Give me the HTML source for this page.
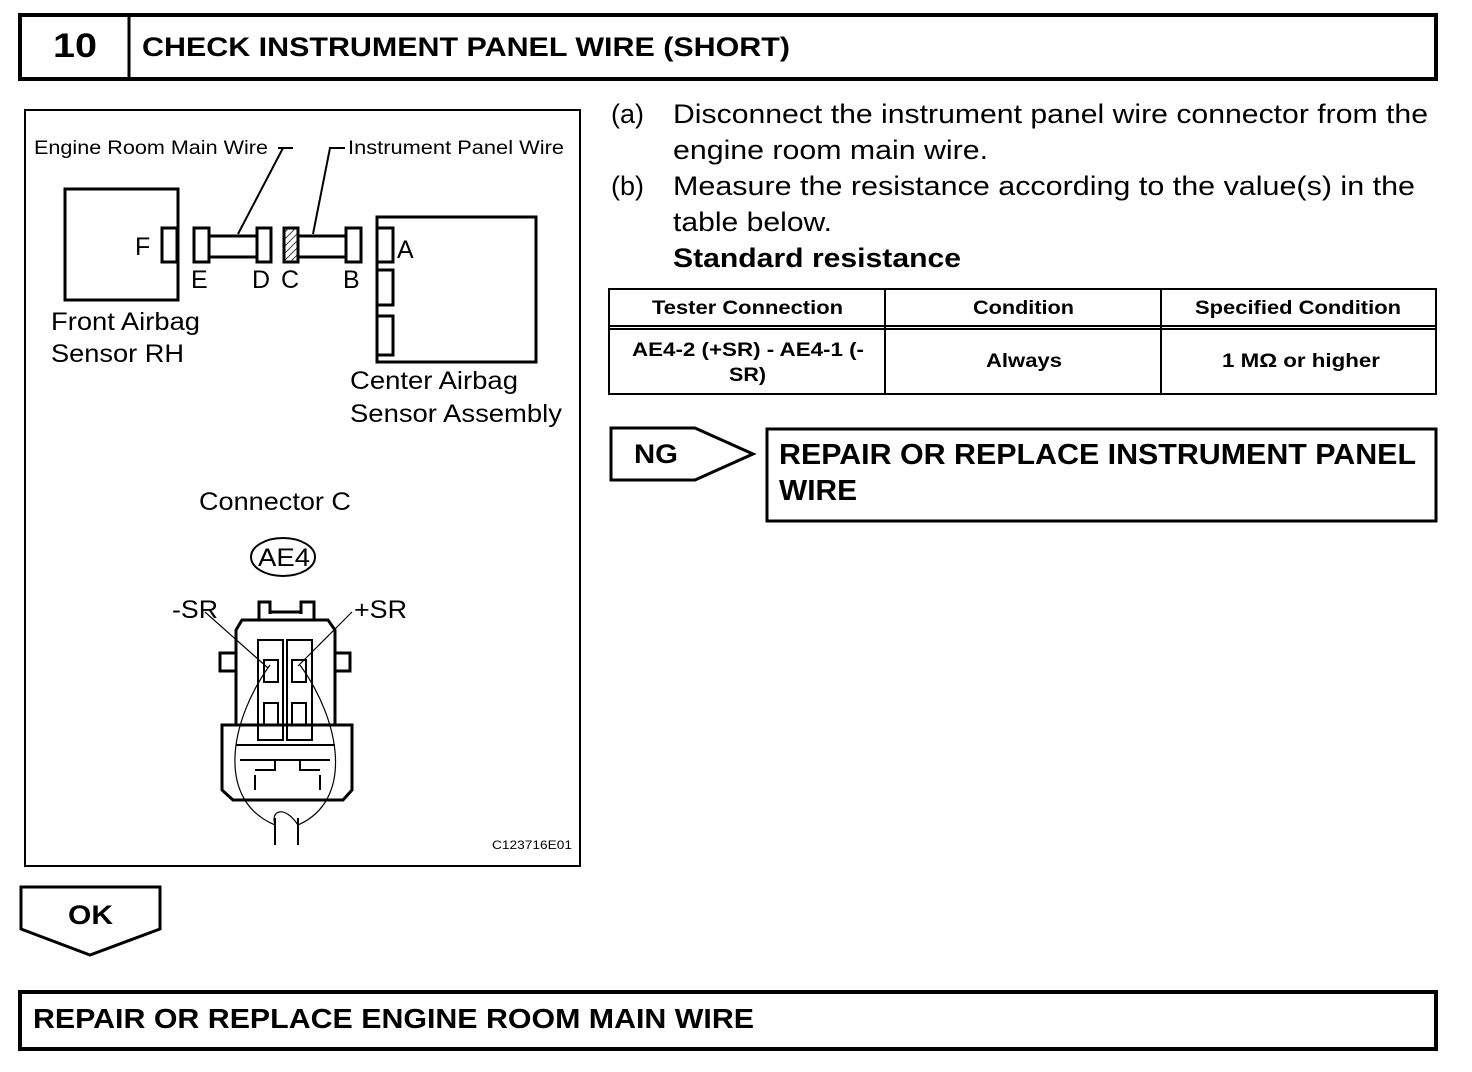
<!DOCTYPE html>
<html><head><meta charset="utf-8"><style>
body{margin:0;background:#fff;}
svg{display:block;font-family:"Liberation Sans",Arial,sans-serif;}
</style></head><body>
<svg width="1472" height="1072" viewBox="0 0 1472 1072" xmlns="http://www.w3.org/2000/svg">
<defs><pattern id="h" width="5" height="5" patternUnits="userSpaceOnUse" patternTransform="rotate(45)"><line x1="0" y1="0" x2="0" y2="5" stroke="#000" stroke-width="1.5"/></pattern></defs>
<g fill="none" stroke="#000">
<rect x="20" y="15" width="1416" height="64" stroke-width="4"/>
<line x1="129" y1="15" x2="129" y2="79" stroke-width="3"/>
<rect x="25" y="110" width="555" height="756" stroke-width="2"/>
</g>
<text x="53" y="57" font-size="34" font-weight="bold" textLength="44" lengthAdjust="spacingAndGlyphs">10</text>
<text x="142" y="56" font-size="27" font-weight="bold" textLength="648" lengthAdjust="spacingAndGlyphs">CHECK INSTRUMENT PANEL WIRE (SHORT)</text>

<g fill="none" stroke="#000" stroke-width="3">
<rect x="65" y="189" width="113" height="111"/>
<rect x="162" y="228" width="15" height="34" fill="#fff"/>
<rect x="194" y="228" width="15" height="34"/>
<rect x="209" y="236" width="48" height="21"/>
<rect x="257" y="228" width="14" height="34"/>
<rect x="284" y="228" width="14" height="34" fill="url(#h)"/>
<rect x="298" y="236" width="48" height="21"/>
<rect x="346" y="228" width="15" height="34"/>
<rect x="377" y="217" width="159" height="145"/>
<rect x="377" y="228" width="16" height="34" fill="#fff"/>
<rect x="377" y="270" width="16" height="35" fill="#fff"/>
<rect x="377" y="316" width="16" height="39" fill="#fff"/>
</g>
<g fill="none" stroke="#000" stroke-width="2">
<polyline points="238,234 283,148 278,148 293,148"/>
<polyline points="313,234 330,148 345,148"/>
</g>
<g font-size="19">
<text x="34" y="154" textLength="234" lengthAdjust="spacingAndGlyphs">Engine Room Main Wire</text>
<text x="348" y="154" textLength="216" lengthAdjust="spacingAndGlyphs">Instrument Panel Wire</text>
</g>
<g font-size="25">
<text x="135" y="255">F</text>
<text x="191" y="288">E</text>
<text x="252" y="288">D</text>
<text x="281" y="288">C</text>
<text x="343" y="288">B</text>
<text x="397" y="258">A</text>
<text x="51" y="330" textLength="149" lengthAdjust="spacingAndGlyphs">Front Airbag</text>
<text x="51" y="362" textLength="133" lengthAdjust="spacingAndGlyphs">Sensor RH</text>
<text x="350" y="389" textLength="168" lengthAdjust="spacingAndGlyphs">Center Airbag</text>
<text x="350" y="422" textLength="212" lengthAdjust="spacingAndGlyphs">Sensor Assembly</text>
<text x="199" y="510" textLength="152" lengthAdjust="spacingAndGlyphs">Connector C</text>
<text x="258" y="566" textLength="52" lengthAdjust="spacingAndGlyphs">AE4</text>
<text x="172" y="618" textLength="46" lengthAdjust="spacingAndGlyphs">-SR</text>
<text x="354" y="618" textLength="53" lengthAdjust="spacingAndGlyphs">+SR</text>
</g>
<ellipse cx="283" cy="557" rx="32" ry="19" fill="none" stroke="#000" stroke-width="2"/>

<g fill="none" stroke="#000" stroke-width="3">
<path d="M259,620 V602 H270 V614 M301,614 V602 H314 V620"/>
<line x1="270" y1="612" x2="301" y2="612"/>
<path d="M242,620 H328 L335,630 V725 H236 V630 Z"/>
<path d="M236,653 H220 V671 H236 M335,653 H350 V671 H335"/>
<path d="M236,725 H222 V790 L233,800 H343 L352,790 V725 H335"/>
<rect x="258" y="640" width="25" height="100" stroke-width="2"/>
<rect x="287" y="640" width="25" height="100" stroke-width="2"/>
<rect x="264" y="660" width="14" height="22" stroke-width="2"/>
<rect x="292" y="660" width="14" height="22" stroke-width="2"/>
<rect x="264" y="703" width="14" height="22" stroke-width="2"/>
<rect x="292" y="703" width="14" height="22" stroke-width="2"/>
<path d="M236,745 H335 M240,760 H330 M255,770 H275 V760 M300,760 V770 H320 M255,790 V775 M320,790 V775" stroke-width="2"/>
<path d="M275,818 V845 M298,818 V845" stroke-width="2"/>
</g>
<g fill="none" stroke="#000" stroke-width="1.2">
<path d="M270,665 C230,720 215,800 275,825"/>
<path d="M300,665 C340,720 355,800 298,825"/>
<path d="M275,825 C270,810 285,805 298,825"/>
<line x1="205" y1="612" x2="268" y2="668"/>
<line x1="352" y1="612" x2="298" y2="666"/>
</g>
<text x="492" y="849" font-size="12" textLength="80" lengthAdjust="spacingAndGlyphs">C123716E01</text>

<g font-size="27">
<text x="611" y="123">(a)</text>
<text x="673" y="123" textLength="755" lengthAdjust="spacingAndGlyphs">Disconnect the instrument panel wire connector from the</text>
<text x="673" y="159" textLength="315" lengthAdjust="spacingAndGlyphs">engine room main wire.</text>
<text x="611" y="195">(b)</text>
<text x="673" y="195" textLength="742" lengthAdjust="spacingAndGlyphs">Measure the resistance according to the value(s) in the</text>
<text x="673" y="231" textLength="159" lengthAdjust="spacingAndGlyphs">table below.</text>
<text x="673" y="267" font-weight="bold" textLength="288" lengthAdjust="spacingAndGlyphs">Standard resistance</text>
</g>
<g fill="none" stroke="#000" stroke-width="2">
<rect x="609" y="289" width="827" height="105"/>
<line x1="609" y1="326" x2="1436" y2="326"/>
<line x1="609" y1="329" x2="1436" y2="329"/>
<line x1="885" y1="289" x2="885" y2="394"/>
<line x1="1161" y1="289" x2="1161" y2="394"/>
</g>
<g font-size="19" font-weight="bold">
<text x="652" y="314" textLength="191" lengthAdjust="spacingAndGlyphs">Tester Connection</text>
<text x="973" y="314" textLength="101" lengthAdjust="spacingAndGlyphs">Condition</text>
<text x="1195" y="314" textLength="206" lengthAdjust="spacingAndGlyphs">Specified Condition</text>
<text x="632" y="356" textLength="232" lengthAdjust="spacingAndGlyphs">AE4-2 (+SR) - AE4-1 (-</text>
<text x="729" y="381" textLength="37" lengthAdjust="spacingAndGlyphs">SR)</text>
<text x="986" y="367" textLength="76" lengthAdjust="spacingAndGlyphs">Always</text>
<text x="1222" y="367" textLength="158" lengthAdjust="spacingAndGlyphs">1 MΩ or higher</text>
</g>

<polygon points="611,428 695,428 753,454 695,480 611,480" fill="none" stroke="#000" stroke-width="3"/>
<text x="634" y="463" font-size="27" font-weight="bold" textLength="44" lengthAdjust="spacingAndGlyphs">NG</text>
<rect x="767" y="429" width="669" height="92" fill="none" stroke="#000" stroke-width="3"/>
<text x="779" y="464" font-size="29" font-weight="bold" textLength="637" lengthAdjust="spacingAndGlyphs">REPAIR OR REPLACE INSTRUMENT PANEL</text>
<text x="779" y="500" font-size="29" font-weight="bold" textLength="78" lengthAdjust="spacingAndGlyphs">WIRE</text>

<polygon points="21,887 160,887 160,929 90,955 21,929" fill="none" stroke="#000" stroke-width="3"/>
<text x="68" y="924" font-size="27" font-weight="bold" textLength="45" lengthAdjust="spacingAndGlyphs">OK</text>

<rect x="20" y="992" width="1416" height="57" fill="none" stroke="#000" stroke-width="4"/>
<text x="33" y="1028" font-size="28" font-weight="bold" textLength="721" lengthAdjust="spacingAndGlyphs">REPAIR OR REPLACE ENGINE ROOM MAIN WIRE</text>
</svg>
</body></html>
